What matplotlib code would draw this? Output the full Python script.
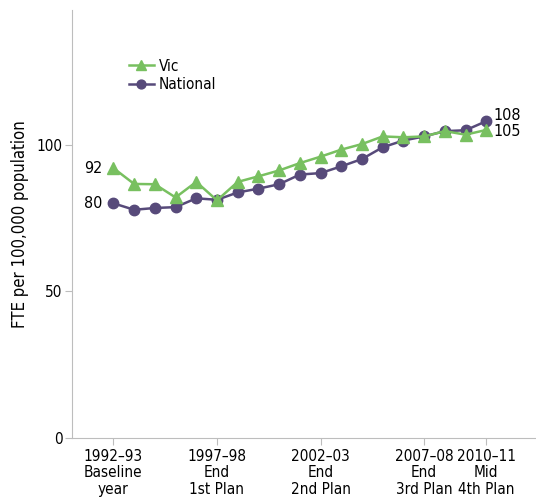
import matplotlib

matplotlib.use("Agg")
import matplotlib.pyplot as plt

plt.rcParams["font.family"] = ["DejaVu Sans"]
plt.rcParams["font.stretch"] = "condensed"

years = list(range(1992, 2011))
vic = [92, 86.6, 86.5, 82.0, 87.3, 81.0, 87.3, 89.2, 91.2, 93.7, 95.9,
       98.3, 100.2, 102.8, 102.5, 102.8, 104.6, 103.4, 105]
national = [80, 77.8, 78.4, 78.7, 81.7, 81.2, 83.7, 85.0, 86.5, 89.8, 90.3,
            92.6, 95.1, 99.1, 101.4, 102.8, 104.6, 104.9, 108]
tick_years = [1992, 1997, 2002, 2007, 2010]
tick_labels = ["1992\u201393\nBaseline\nyear", "1997\u201398\nEnd\n1st Plan",
               "2002\u201303\nEnd\n2nd Plan", "2007\u201308\nEnd\n3rd Plan",
               "2010\u201311\nMid\n4th Plan"]

GREEN = "#78c060"
PURPLE = "#574a7a"
GREY = "#bdbdbd"

fig = plt.figure(figsize=(5.36, 5.01), dpi=100)
ax = fig.add_axes([0.1343, 0.1257, 0.8657, 0.855])

ax.plot(years, vic, color=GREEN, linewidth=1.8, marker="^", markersize=9,
        label="Vic", zorder=3)
ax.plot(years, national, color=PURPLE, linewidth=1.8, marker="o", markersize=7.5,
        label="National", zorder=2)

ax.text(years[0] - 0.55, vic[0], f"{vic[0]:.0f}", ha="right", va="center", fontsize=11.5)
ax.text(years[0] - 0.55, national[0], f"{national[0]:.0f}", ha="right", va="center", fontsize=11.5)
ax.text(years[-1] + 0.35, national[-1] + 1.8, f"{national[-1]:.0f}", ha="left", va="center", fontsize=11.5)
ax.text(years[-1] + 0.35, vic[-1] - 0.5, f"{vic[-1]:.0f}", ha="left", va="center", fontsize=11.5)

ax.set_xlim(1990, 2012.4)
ax.set_ylim(0, 146)
ax.set_xticks(tick_years, tick_labels, linespacing=1.1)
ax.set_yticks([0, 50, 100])
ax.set_ylabel("FTE per 100,000 population", fontsize=12, labelpad=5)

for side in ("top", "right"):
    ax.spines[side].set_visible(False)
for side in ("left", "bottom"):
    ax.spines[side].set_color(GREY)
ax.tick_params(colors=GREY, labelcolor="black", length=5)
ax.tick_params(axis="y", pad=2, labelsize=11)
ax.tick_params(axis="x", pad=3, labelsize=11)

ax.legend(loc="upper left", bbox_to_anchor=(0.11, 0.9), frameon=False,
          fontsize=11, handlelength=1.6, handletextpad=0.35, labelspacing=0.25,
          borderaxespad=0, markerscale=0.85)

fig.savefig("out.png", dpi=100)
